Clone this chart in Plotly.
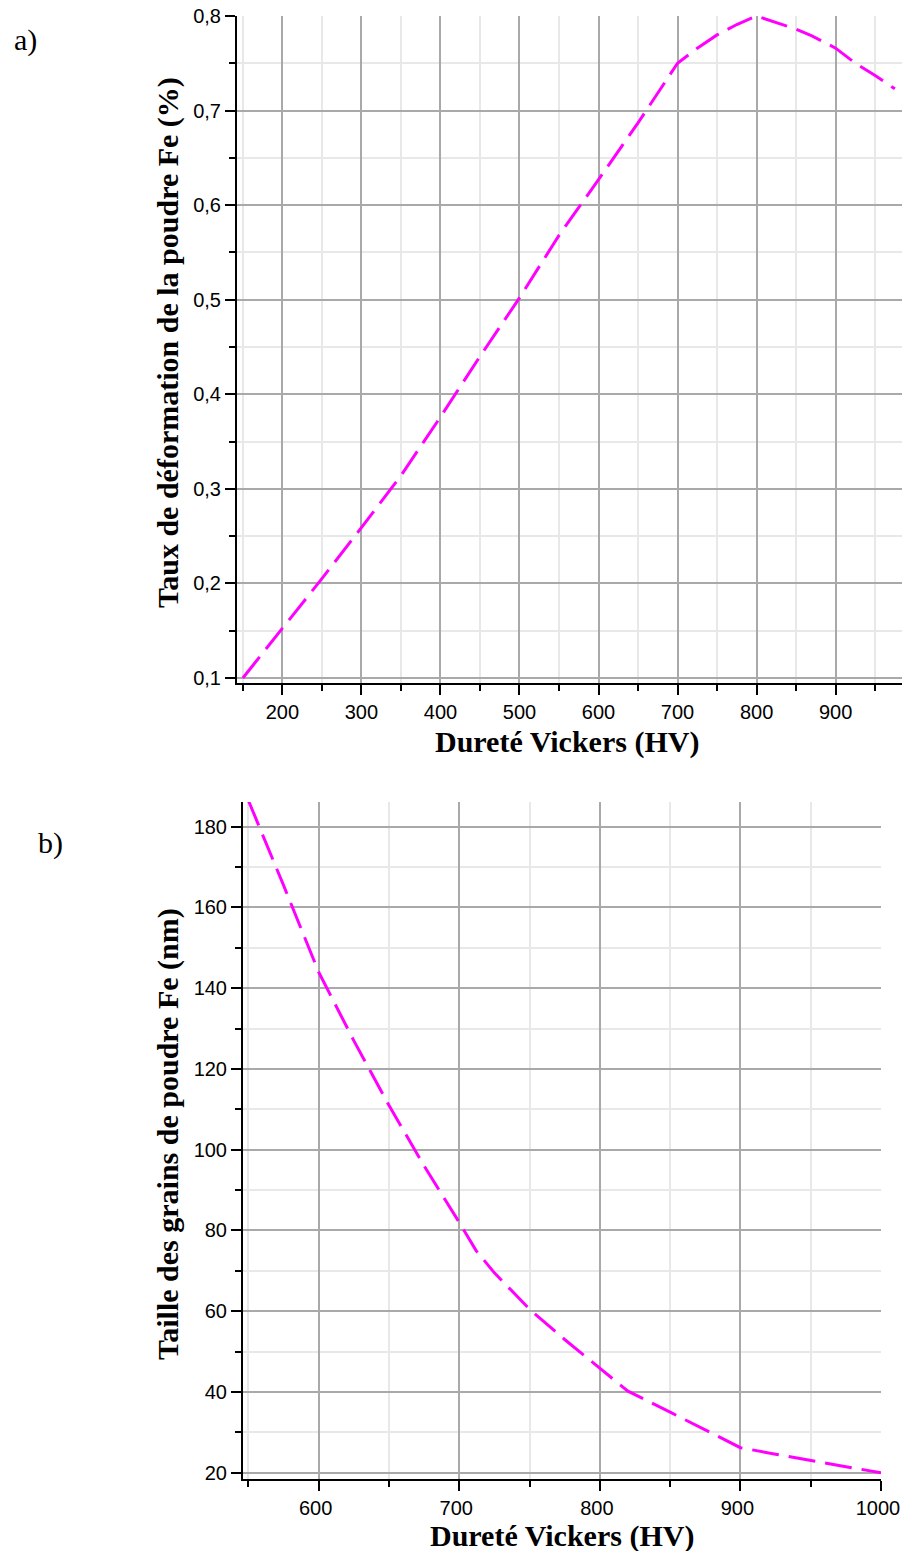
import plotly.graph_objects as go

# ---- data: chart a) ----
hv_a = [150, 200, 250, 300, 350, 400, 450, 500, 550, 600, 650, 700, 725, 750, 775, 800, 825, 850, 870, 900, 925, 950, 975]
taux_a = [0.100, 0.152, 0.205, 0.259, 0.314, 0.376, 0.440, 0.502, 0.568, 0.627, 0.687, 0.750, 0.766, 0.780, 0.791, 0.800, 0.793, 0.786, 0.779, 0.766, 0.750, 0.737, 0.723]

# ---- data: chart b) ----
hv_b = [550, 575, 600, 625, 650, 675, 700, 712, 725, 750, 775, 800, 820, 850, 875, 900, 925, 950, 975, 1000]
taille_b = [186.5, 165.5, 144.0, 127.0, 111.0, 96.0, 82.0, 75.0, 69.5, 60.5, 53.0, 46.0, 40.2, 35.0, 30.5, 26.2, 24.6, 23.0, 21.5, 20.0]

# ---- tick labels ----
xa_ticks = [200, 300, 400, 500, 600, 700, 800, 900]
xa_text = ["200", "300", "400", "500", "600", "700", "800", "900"]
xa_minor = [150, 250, 350, 450, 550, 650, 750, 850, 950]
ya_ticks = [0.1, 0.2, 0.3, 0.4, 0.5, 0.6, 0.7, 0.8]
ya_text = ["0,1", "0,2", "0,3", "0,4", "0,5", "0,6", "0,7", "0,8"]
ya_minor = [0.15, 0.25, 0.35, 0.45, 0.55, 0.65, 0.75]

xb_ticks = [600, 700, 800, 900, 1000]
xb_text = ["600", "700", "800", "900", "1000"]
xb_minor = [550, 650, 750, 850, 950]
yb_ticks = [20, 40, 60, 80, 100, 120, 140, 160, 180]
yb_text = ["20", "40", "60", "80", "100", "120", "140", "160", "180"]
yb_minor = [30, 50, 70, 90, 110, 130, 150, 170]

W, H = 902, 1551
MAGENTA = "#ff00ff"
MAJOR_GRID = "#a9a9a9"
MINOR_GRID = "#e8e8e8"
TICK_FONT = dict(family="Liberation Sans, Arial", size=20, color="black")
TITLE_FONT = dict(family="Liberation Serif, Times New Roman, serif", size=30, color="black")


def px_x(p):
    return p / W


def px_y(p):
    return 1 - p / H


def axis(ticks, text, minor, rng, domain, anchor, shift=0):
    return dict(
        range=rng, domain=domain, anchor=anchor, automargin=False,
        tickmode="array", tickvals=ticks, ticktext=text,
        ticks="outside", ticklen=10, tickwidth=2, tickcolor="black",
        showline=True, linecolor="black", linewidth=2, mirror=False,
        showgrid=True, gridcolor=MAJOR_GRID, gridwidth=1.5,
        zeroline=False, tickfont=TICK_FONT, ticklabeloverflow="allow",
        ticklabelshift=shift,
        minor=dict(tickmode="array", tickvals=minor, ticks="outside", ticklen=6,
                   tickwidth=2, tickcolor="black", showgrid=True,
                   gridcolor=MINOR_GRID, gridwidth=1.5),
        fixedrange=True,
    )


fig = go.Figure()
fig.add_trace(go.Scatter(x=hv_a, y=taux_a, mode="lines", xaxis="x", yaxis="y",
                         line=dict(color=MAGENTA, width=3, dash="27px,10px"),
                         showlegend=False, hoverinfo="skip"))
fig.add_trace(go.Scatter(x=hv_b, y=taille_b, mode="lines", xaxis="x2", yaxis="y2",
                         line=dict(color=MAGENTA, width=3, dash="27px,10px"),
                         showlegend=False, hoverinfo="skip"))

fig.update_layout(
    width=W, height=H, autosize=False,
    margin=dict(l=0, r=0, t=0, b=0, pad=0, autoexpand=False),
    paper_bgcolor="white", plot_bgcolor="white",
    xaxis=axis(xa_ticks, xa_text, xa_minor, [142.6, 984.0], [px_x(237), 1.0], "y"),
    yaxis=axis(ya_ticks, ya_text, ya_minor, [0.0947, 0.8], [px_y(683), px_y(16)], "x"),
    xaxis2=axis(xb_ticks, xb_text, xb_minor, [546.2, 1000.0], [px_x(243), px_x(881)], "y2", shift=-3),
    yaxis2=axis(yb_ticks, yb_text, yb_minor, [18.45, 186.1], [px_y(1479), px_y(802)], "x2"),
    annotations=[
        dict(text="<b>Taux de déformation de la poudre Fe (%)</b>", textangle=-90,
             xref="paper", yref="paper", x=px_x(168), y=px_y(343),
             xanchor="center", yanchor="middle", showarrow=False, font=TITLE_FONT),
        dict(text="<b>Dureté Vickers (HV)</b>",
             xref="paper", yref="paper", x=px_x(567), y=px_y(742),
             xanchor="center", yanchor="middle", showarrow=False, font=TITLE_FONT),
        dict(text="<b>Taille des grains de poudre Fe (nm)</b>", textangle=-90,
             xref="paper", yref="paper", x=px_x(168), y=px_y(1134),
             xanchor="center", yanchor="middle", showarrow=False, font=TITLE_FONT),
        dict(text="<b>Dureté Vickers (HV)</b>",
             xref="paper", yref="paper", x=px_x(562), y=px_y(1536),
             xanchor="center", yanchor="middle", showarrow=False, font=TITLE_FONT),
        dict(text="a)", xref="paper", yref="paper", x=px_x(25), y=px_y(40),
             xanchor="center", yanchor="middle", showarrow=False,
             font=dict(family="Liberation Serif, Times New Roman, serif", size=30, color="black")),
        dict(text="b)", xref="paper", yref="paper", x=px_x(50), y=px_y(843),
             xanchor="center", yanchor="middle", showarrow=False,
             font=dict(family="Liberation Serif, Times New Roman, serif", size=30, color="black")),
    ],
)

fig.write_html("out.html", config={"displayModeBar": False},
               post_script="document.body.style.margin='0px';")
